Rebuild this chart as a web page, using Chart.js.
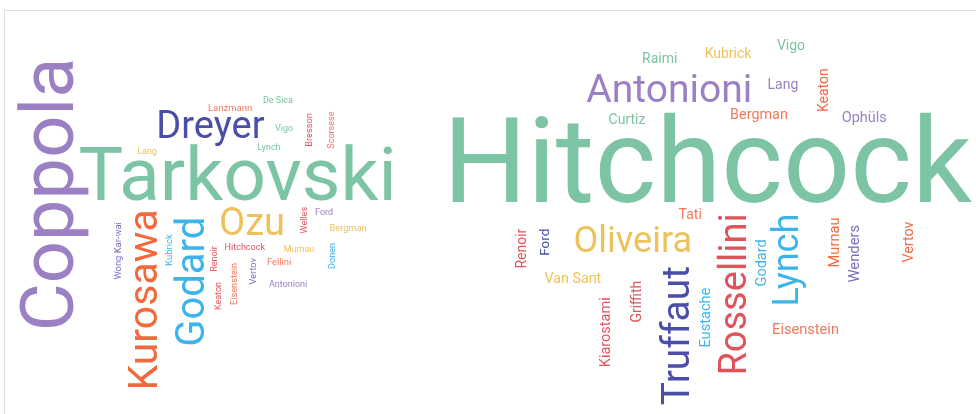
<!DOCTYPE html>
<html>
<head>
<meta charset="utf-8">
<style>
  html, body { margin: 0; padding: 0; background: #fff; overflow: hidden; }
  #frame {
    position: absolute; left: 4px; top: 10px; width: 1000px; height: 430px;
    border: 1px solid #dedede; box-sizing: border-box;
  }
  #wrap { position: absolute; left: 0; top: 0; width: 976px; height: 414px; }
</style>
<script src="https://cdn.jsdelivr.net/npm/chart.js@4/dist/chart.umd.min.js"></script>
</head>
<body>
<div id="frame"></div>
<div id="wrap"><canvas id="cloud"></canvas></div>
<script>
// left cloud
const leftWords = ["Coppola", "Tarkovski", "Dreyer", "Lanzmann", "De Sica", "Vigo", "Lynch", "Lang",
  "Bresson", "Scorsese", "Ozu", "Kurosawa", "Godard", "Wong Kar-wai", "Kubrick", "Renoir",
  "Hitchcock", "Murnau", "Fellini", "Vertov", "Eisenstein", "Keaton", "Antonioni", "Welles",
  "Ford", "Bergman", "Donen"];
const leftWeights = [74, 75, 38, 9.5, 9, 9, 9, 9, 9.3, 9, 38, 41, 40, 9.4, 9.5, 9, 9, 9, 9.3,
  9.3, 9.2, 9, 9, 9, 9, 9.2, 9.1];
const leftX = [53, 236, 212, 230, 278, 284, 269, 147, 308, 330, 252, 142, 188, 118, 168, 213,
  245, 299, 279, 252, 233, 217, 288, 303, 324, 348, 331];
const leftY = [194, 172, 128, 107, 99, 128, 147, 151, 130, 130, 221, 299, 282, 251, 250, 259,
  246, 248, 261, 271, 284, 296, 283, 220, 211, 228, 256];
const leftVertical = [1, 0, 0, 0, 0, 0, 0, 0, 1, 1, 0, 1, 1, 1, 1, 1, 0, 0, 0, 1, 1, 1, 0, 1, 0, 0, 1];
const leftColors = ["purple", "green", "navy", "salmon", "green", "green", "green", "yellow",
  "red", "salmon", "yellow", "orange", "blue", "violet", "blue", "red", "red", "yellow",
  "salmon", "violet", "salmon", "red", "purple", "red", "purple", "yellow", "blue"];

// right cloud
const rightWords = ["Hitchcock", "Antonioni", "Raimi", "Kubrick", "Vigo", "Lang", "Keaton",
  "Curtiz", "Bergman", "Ophüls", "Tati", "Oliveira", "Renoir", "Ford", "Van Sant", "Kiarostami",
  "Griffith", "Truffaut", "Eustache", "Rossellini", "Godard", "Lynch", "Murnau", "Wenders",
  "Vertov", "Eisenstein"];
const rightWeights = [118, 39, 14, 14, 14, 14, 14, 14, 14.4, 14.5, 14, 36, 14, 13.5, 14.3, 14.5,
  14, 39, 14.6, 38, 14.5, 36, 14.7, 14.8, 14.2, 14.6];
const rightX = [712, 668, 660, 729, 791, 783, 822, 627, 759, 864, 690, 633, 520, 544, 573, 604,
  635, 674, 704, 731, 760, 788, 833, 853, 907, 806];
const rightY = [157, 88, 57, 52, 46, 85, 90, 118, 115, 118, 213, 238, 248, 242, 277, 332, 302,
  336, 317, 294, 263, 260, 242, 254, 242, 328];
const rightVertical = [0, 0, 0, 0, 0, 0, 1, 0, 0, 0, 0, 0, 1, 1, 0, 1, 1, 1, 1, 1, 1, 1, 1, 1, 1, 0];
const rightColors = ["green", "purple", "green", "yellow", "green", "purple", "orange", "green",
  "salmon", "purple", "salmon", "yellow", "red", "navy", "yellow", "red", "red", "navy", "blue",
  "red", "blue", "blue", "orange", "violet", "orange", "salmon"];

const palette = {
  purple: "#9b80c4",
  violet: "#7b6cbf",
  green: "#7cc4a4",
  navy: "#4b4ea8",
  orange: "#f3693d",
  blue: "#3eb3ea",
  yellow: "#edc25c",
  red: "#e1535b",
  salmon: "#f3785c",
};

function toPoints(xs, ys) {
  return xs.map((x, i) => ({ x: x, y: ys[i] }));
}

const wordPlugin = {
  id: "wordText",
  afterDatasetsDraw(chart) {
    const ctx = chart.ctx;
    chart.data.datasets.forEach((ds, di) => {
      const meta = chart.getDatasetMeta(di);
      meta.data.forEach((pt, i) => {
        const size = ds.weights[i];
        ctx.save();
        ctx.translate(pt.x, pt.y);
        if (ds.vertical[i]) ctx.rotate(-Math.PI / 2);
        ctx.font = size + "px Roboto";
        ctx.fillStyle = palette[ds.colors[i]];
        ctx.textAlign = "left";
        ctx.textBaseline = "alphabetic";
        const m = ctx.measureText(ds.words[i]);
        const cx = (m.actualBoundingBoxRight - m.actualBoundingBoxLeft) / 2;
        const cy = (m.actualBoundingBoxDescent - m.actualBoundingBoxAscent) / 2;
        ctx.fillText(ds.words[i], -cx, -cy);
        ctx.restore();
      });
    });
  },
};

function drawCloud() {
  new Chart(document.getElementById("cloud"), {
    type: "scatter",
    data: {
      datasets: [
        {
          label: "left",
          data: toPoints(leftX, leftY),
          words: leftWords,
          weights: leftWeights,
          vertical: leftVertical,
          colors: leftColors,
          pointRadius: 0,
        },
        {
          label: "right",
          data: toPoints(rightX, rightY),
          words: rightWords,
          weights: rightWeights,
          vertical: rightVertical,
          colors: rightColors,
          pointRadius: 0,
        },
      ],
    },
    options: {
      responsive: true,
      maintainAspectRatio: false,
      animation: false,
      layout: { padding: 0 },
      plugins: { legend: { display: false }, tooltip: { enabled: false } },
      scales: {
        x: { type: "linear", min: 0, max: 976, display: false },
        y: { type: "linear", min: 0, max: 414, reverse: true, display: false },
      },
    },
    plugins: [wordPlugin],
  });
}

document.fonts.load("20px Roboto").then(drawCloud, drawCloud);
</script>
</body>
</html>
